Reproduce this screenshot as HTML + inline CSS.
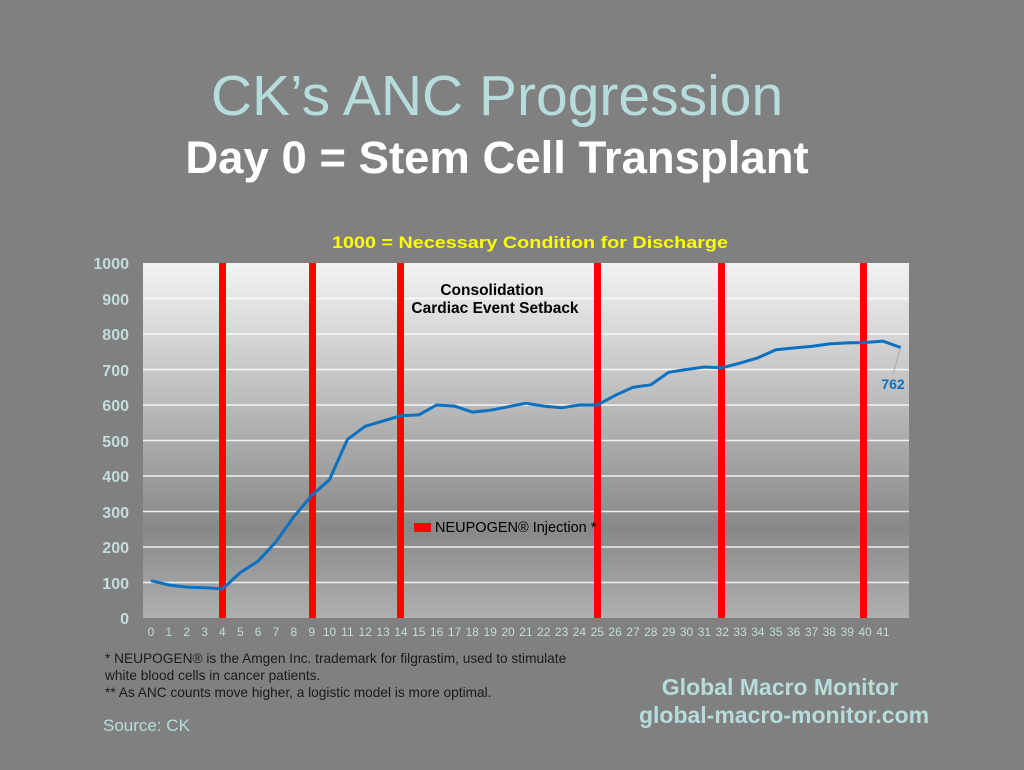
<!DOCTYPE html>
<html><head><meta charset="utf-8"><style>
body{margin:0;background:#808080;}
svg{display:block;font-family:"Liberation Sans",Arial,sans-serif;}
</style></head><body>
<svg width="1024" height="770" viewBox="0 0 1024 770" xmlns="http://www.w3.org/2000/svg">
<defs>
<linearGradient id="g" x1="0" y1="0" x2="0" y2="1">
<stop offset="0" stop-color="#f3f3f3"/>
<stop offset="0.75" stop-color="#888888"/>
<stop offset="1" stop-color="#b0b0b0"/>
</linearGradient>
</defs>
<rect width="1024" height="770" fill="#808080"/>
<text x="497" y="115" font-size="57" fill="#b7dcdc" text-anchor="middle">CK’s ANC Progression</text>
<text x="497" y="173" font-size="45.5" font-weight="bold" fill="#ffffff" text-anchor="middle">Day 0 = Stem Cell Transplant</text>
<text x="332" y="248" font-size="17" font-weight="bold" fill="#ffff00" textLength="396" lengthAdjust="spacingAndGlyphs">1000 = Necessary Condition for Discharge</text>
<rect x="143" y="263" width="766" height="355" fill="url(#g)"/>
<g stroke="#ffffff" stroke-width="1.5" opacity="0.85">
<line x1="143" x2="909" y1="298.5" y2="298.5"/><line x1="143" x2="909" y1="334" y2="334"/>
<line x1="143" x2="909" y1="369.5" y2="369.5"/><line x1="143" x2="909" y1="405" y2="405"/>
<line x1="143" x2="909" y1="440.5" y2="440.5"/><line x1="143" x2="909" y1="476" y2="476"/>
<line x1="143" x2="909" y1="511.5" y2="511.5"/><line x1="143" x2="909" y1="547" y2="547"/>
<line x1="143" x2="909" y1="582.5" y2="582.5"/>
</g>
<g font-size="16" font-weight="bold" fill="#c3dcdc" text-anchor="end">
<text x="129" y="269">1000</text><text x="129" y="305">900</text><text x="129" y="340">800</text>
<text x="129" y="376">700</text><text x="129" y="411">600</text><text x="129" y="447">500</text>
<text x="129" y="482">400</text><text x="129" y="518">300</text><text x="129" y="553">200</text>
<text x="129" y="589">100</text><text x="129" y="624">0</text>
</g>
<g fill="#ff0000">
<rect x="219" y="263" width="7" height="355"/><rect x="309" y="263" width="7" height="355"/>
<rect x="397" y="263" width="7" height="355"/><rect x="594" y="263" width="7" height="355"/>
<rect x="718" y="263" width="7" height="355"/><rect x="860" y="263" width="7" height="355"/>
</g>
<text x="492" y="295" font-size="15.5" font-weight="bold" fill="#000" text-anchor="middle">Consolidation</text>
<text x="495" y="313" font-size="15.5" font-weight="bold" fill="#000" text-anchor="middle">Cardiac Event Setback</text>
<rect x="414" y="523" width="17" height="9" fill="#ff0000"/>
<text x="435" y="532" font-size="14.5" fill="#000">NEUPOGEN® Injection *</text>
<polyline fill="none" stroke="#0a70c0" stroke-width="3" stroke-linejoin="round" points="151,580.7 168.9,585 186.7,587.1 204.6,587.8 222.4,588.9 240.3,572.6 258.1,561.2 276,541.7 293.8,516.8 311.7,495.5 329.5,479.6 347.4,439.4 365.2,426.3 383.1,421 400.9,415.7 418.8,414.9 436.6,405 454.5,406.1 472.3,412.1 490.2,410.3 508,406.8 525.9,403.2 543.7,406.1 561.6,407.8 579.4,405 597.3,405 615.1,395.4 633,387.3 650.8,384.8 668.7,372.3 686.5,369.5 704.4,367 722.2,367.8 740.1,363.1 757.9,357.8 775.8,349.8 793.6,348 811.5,346.4 829.3,343.9 847.2,342.9 865,342.5 882.9,341.1 900.7,347.5"/>
<line x1="900" y1="349" x2="893" y2="374" stroke="#aaaaaa" stroke-width="1"/>
<text x="893" y="389" font-size="14" font-weight="bold" fill="#0a70c0" text-anchor="middle">762</text>
<g font-size="12" fill="#c3dcdc" text-anchor="middle">
<text x="151" y="636">0</text><text x="168.9" y="636">1</text><text x="186.7" y="636">2</text><text x="204.6" y="636">3</text><text x="222.4" y="636">4</text><text x="240.3" y="636">5</text><text x="258.1" y="636">6</text><text x="276" y="636">7</text><text x="293.8" y="636">8</text><text x="311.7" y="636">9</text><text x="329.5" y="636">10</text><text x="347.4" y="636">11</text><text x="365.2" y="636">12</text><text x="383.1" y="636">13</text><text x="400.9" y="636">14</text><text x="418.8" y="636">15</text><text x="436.6" y="636">16</text><text x="454.5" y="636">17</text><text x="472.3" y="636">18</text><text x="490.2" y="636">19</text><text x="508" y="636">20</text><text x="525.9" y="636">21</text><text x="543.7" y="636">22</text><text x="561.6" y="636">23</text><text x="579.4" y="636">24</text><text x="597.3" y="636">25</text><text x="615.1" y="636">26</text><text x="633" y="636">27</text><text x="650.8" y="636">28</text><text x="668.7" y="636">29</text><text x="686.5" y="636">30</text><text x="704.4" y="636">31</text><text x="722.2" y="636">32</text><text x="740.1" y="636">33</text><text x="757.9" y="636">34</text><text x="775.8" y="636">35</text><text x="793.6" y="636">36</text><text x="811.5" y="636">37</text><text x="829.3" y="636">38</text><text x="847.2" y="636">39</text><text x="865" y="636">40</text><text x="882.9" y="636">41</text>
</g>
<g font-size="13.7" fill="#1a1a1a">
<text x="105" y="663">* NEUPOGEN® is the Amgen Inc. trademark for filgrastim, used to stimulate</text>
<text x="105" y="680">white blood cells in cancer patients.</text>
<text x="105" y="697">** As ANC counts move higher, a logistic model is more optimal.</text>
</g>
<text x="103" y="731" font-size="17" fill="#b7dcdc">Source: CK</text>
<text x="780" y="695" font-size="23" font-weight="bold" fill="#b7dcdc" text-anchor="middle">Global Macro Monitor</text>
<text x="784" y="723" font-size="23" font-weight="bold" fill="#b7dcdc" text-anchor="middle">global-macro-monitor.com</text>
</svg>
</body></html>
